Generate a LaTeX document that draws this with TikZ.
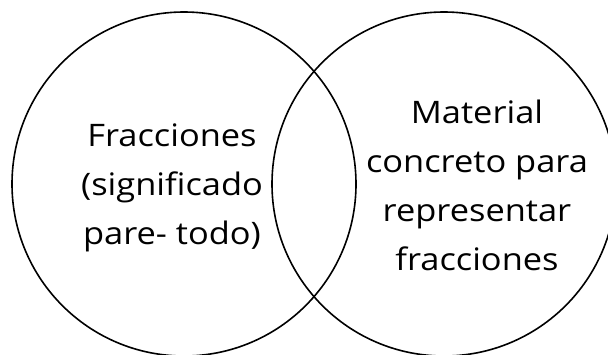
\documentclass[tikz,border=0pt]{standalone}
\usepackage{fontspec}
\setmainfont{Open Sans}
\usepackage{tikz}

\begin{document}
\begin{tikzpicture}[x=1pt,y=-1pt,
    conjunto/.style={circle, draw, line width=1.6pt, minimum size=344pt, inner sep=0pt},
    texto/.style={align=center, inner sep=0pt, xscale=1.11, transform shape,
      font=\fontsize{31}{49}\selectfont}]
        \useasboundingbox (0,0) rectangle (608,354);

        % Círculos del diagrama
        \node [conjunto] (izq) at (184,184) {};
        \node [conjunto] (der) at (444,184) {};

        % Textos de cada conjunto
        \node [texto] (fracc) at (172,188) {Fracciones\\(significado\\pare- todo)};
        \node [texto] (mat) at (477,185) {Material\\concreto para\\representar\\fracciones};
    \end{tikzpicture}
\end{document}
